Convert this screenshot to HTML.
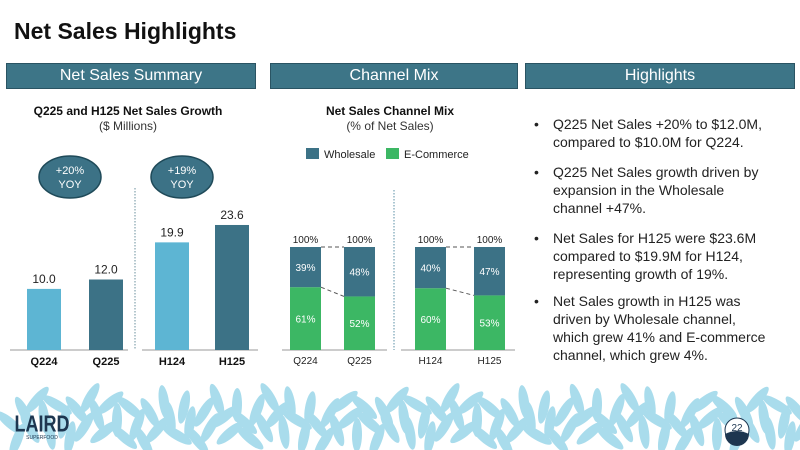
<!DOCTYPE html>
<html><head><meta charset="utf-8"><style>
body{margin:0;width:800px;height:450px;overflow:hidden;background:#fff;font-family:"Liberation Sans",sans-serif;position:relative}
.hdr{position:absolute;top:63px;height:24px;background:#3d7587;border:1px solid #2a5463;color:#fff;font-size:16px;text-align:center;line-height:24px}
.bl{position:absolute;left:540px;font-size:14px;color:#222;line-height:18px;width:232px}
.bl span{position:absolute;left:-6px}
.bl div{padding-left:13px}
</style></head><body>
<div style="position:absolute;left:14px;top:18px;font-size:23px;font-weight:bold;color:#111">Net Sales Highlights</div>
<div class="hdr" style="left:6px;width:248px">Net Sales Summary</div>
<div class="hdr" style="left:270px;width:246px">Channel Mix</div>
<div class="hdr" style="left:525px;width:268px">Highlights</div>

<div class="bl" style="top:115px"><span>•</span><div>Q225 Net Sales +20% to $12.0M, compared to $10.0M for Q224.</div></div>
<div class="bl" style="top:163px"><span>•</span><div>Q225 Net Sales growth driven by expansion in the Wholesale channel +47%.</div></div>
<div class="bl" style="top:229px"><span>•</span><div>Net Sales for H125 were $23.6M compared to $19.9M for H124, representing growth of 19%.</div></div>
<div class="bl" style="top:292px"><span>•</span><div>Net Sales growth in H125 was driven by Wholesale channel, which grew 41% and E-commerce channel, which grew 4%.</div></div>

<svg id="c" width="800" height="450" style="position:absolute;left:0;top:0" font-family="Liberation Sans, sans-serif">
<g id="leaves" fill="#a9dcec"></g>
<text x="128" y="115" text-anchor="middle" font-size="12" font-weight="bold" fill="#111">Q225 and H125 Net Sales Growth</text>
<text x="128" y="130" text-anchor="middle" font-size="12" fill="#333">($ Millions)</text>
<text x="390" y="115" text-anchor="middle" font-size="12" font-weight="bold" fill="#111">Net Sales Channel Mix</text>
<text x="390" y="130" text-anchor="middle" font-size="12" fill="#333">(% of Net Sales)</text>
<rect x="306" y="148" width="13" height="11" fill="#3c7286"/>
<text x="324" y="158" font-size="11" fill="#222">Wholesale</text>
<rect x="386" y="148" width="13" height="11" fill="#3cb764"/>
<text x="404" y="158" font-size="11" fill="#222">E-Commerce</text>
<g id="ell"></g>
<g id="g1"></g><g id="g2"></g>
<g><circle cx="737" cy="430" r="12" fill="#fff" stroke="#1d3650"/><path d="M725,434 Q737,428 749,434 A12,12 0 0 1 725,434Z" fill="#1d3650"/><text x="737" y="431" text-anchor="middle" font-size="10" fill="#1d3650">22</text></g>
<g><text x="42" y="432" text-anchor="middle" font-size="18" font-weight="bold" fill="#1d3650" transform="scale(1,1.3) translate(0,-100)">LAIRD</text><text x="42" y="439" text-anchor="middle" font-size="5" fill="#1d3650">SUPERFOOD</text></g>
</svg>
<script>
const sumCats=["Q224","Q225","H124","H125"];
const sumVals=[10.0,12.0,19.9,23.6];
const mixCats=["Q224","Q225","H124","H125"];
const wholesale=[39,48,40,47];
const ecommerce=[61,52,60,53];
const yoyLabels=["+20%","+19%"];
const NS="http://www.w3.org/2000/svg";
function mk(p,t,a,txt){const e=document.createElementNS(NS,t);for(const k in a)e.setAttribute(k,a[k]);if(txt!==undefined)e.textContent=txt;p.appendChild(e);return e;}
const L=document.getElementById('leaves');
for(let x=10;x<800;x+=20){for(let k=0;k<3;k++){const cx=x+k*7,cy=398+((x*7+k*17)%45),ang=((x*37+k*71)%120)-60;
const e=mk(L,'ellipse',{cx:cx,cy:cy,rx:5,ry:17,transform:`rotate(${ang} ${cx} ${cy})`});

}}
const g1=document.getElementById('g1');
const base=350,sc=4.7,off=3;
const xs1=[27,89,155,215],w1=34,cols1=["#5db5d3","#3c7286","#5db5d3","#3c7286"];
const ySum=v=>base-(v+off)*sc;
mk(g1,'line',{x1:10,y1:base,x2:128,y2:base,stroke:'#999'});
mk(g1,'line',{x1:142,y1:base,x2:258,y2:base,stroke:'#999'});
mk(g1,'line',{x1:135,y1:188,x2:135,y2:base,stroke:'#6a8f9c','stroke-dasharray':'1.5,1.5'});
sumVals.forEach((v,i)=>{
const r=mk(g1,'rect',{x:xs1[i],y:ySum(v),width:w1,height:base-ySum(v),fill:cols1[i]});


const t=mk(g1,'text',{x:xs1[i]+w1/2,y:ySum(v)-6,'text-anchor':'middle','font-size':12,fill:'#222'},v.toFixed(1));


const c=mk(g1,'text',{x:xs1[i]+w1/2,y:base+15,'text-anchor':'middle','font-size':11,'font-weight':'bold',fill:'#111'},sumCats[i]);

});
const E=document.getElementById('ell');
[70,182].forEach((cx,i)=>{
const e=mk(E,'ellipse',{cx:cx,cy:177,rx:31,ry:21,fill:'#3c7286',stroke:'#1f4a59','stroke-width':1.5});


mk(E,'text',{x:cx,y:174,'text-anchor':'middle','font-size':11,fill:'#fff'},yoyLabels[i]);
mk(E,'text',{x:cx,y:188,'text-anchor':'middle','font-size':11,fill:'#fff'},'YOY');});
const g2=document.getElementById('g2');
const xs2=[290,344,415,474],w2=31,H=103;
const yMix=p=>base-p/100*H;
mk(g2,'line',{x1:282,y1:base,x2:387,y2:base,stroke:'#999'});
mk(g2,'line',{x1:401,y1:base,x2:515,y2:base,stroke:'#999'});
mk(g2,'line',{x1:394,y1:190,x2:394,y2:base,stroke:'#5a8fa6','stroke-dasharray':'1.5,1.5'});
mixCats.forEach((c,i)=>{
const e=ecommerce[i],w=wholesale[i];
const re=mk(g2,'rect',{x:xs2[i],y:yMix(e),width:w2,height:base-yMix(e),fill:'#3cb764'});


const rw=mk(g2,'rect',{x:xs2[i],y:yMix(e+w),width:w2,height:yMix(e)-yMix(e+w),fill:'#3c7286'});


mk(g2,'text',{x:xs2[i]+w2/2,y:(yMix(e)+base)/2+4,'text-anchor':'middle','font-size':10,fill:'#fff'},e+'%');
mk(g2,'text',{x:xs2[i]+w2/2,y:(yMix(e)+yMix(e+w))/2+4,'text-anchor':'middle','font-size':10,fill:'#fff'},w+'%');
mk(g2,'text',{x:xs2[i]+w2/2,y:yMix(e+w)-4,'text-anchor':'middle','font-size':10,fill:'#222'},(e+w)+'%');
const l=mk(g2,'text',{x:xs2[i]+w2/2,y:base+14,'text-anchor':'middle','font-size':10,fill:'#222'},c);

});
[0,2].forEach(i=>{
mk(g2,'line',{x1:xs2[i]+w2,y1:yMix(ecommerce[i]+wholesale[i]),x2:xs2[i+1],y2:yMix(ecommerce[i+1]+wholesale[i+1]),stroke:'#555','stroke-dasharray':'4,3'});
mk(g2,'line',{x1:xs2[i]+w2,y1:yMix(ecommerce[i]),x2:xs2[i+1],y2:yMix(ecommerce[i+1]),stroke:'#555','stroke-dasharray':'4,3'});});
</script>
</body></html>
